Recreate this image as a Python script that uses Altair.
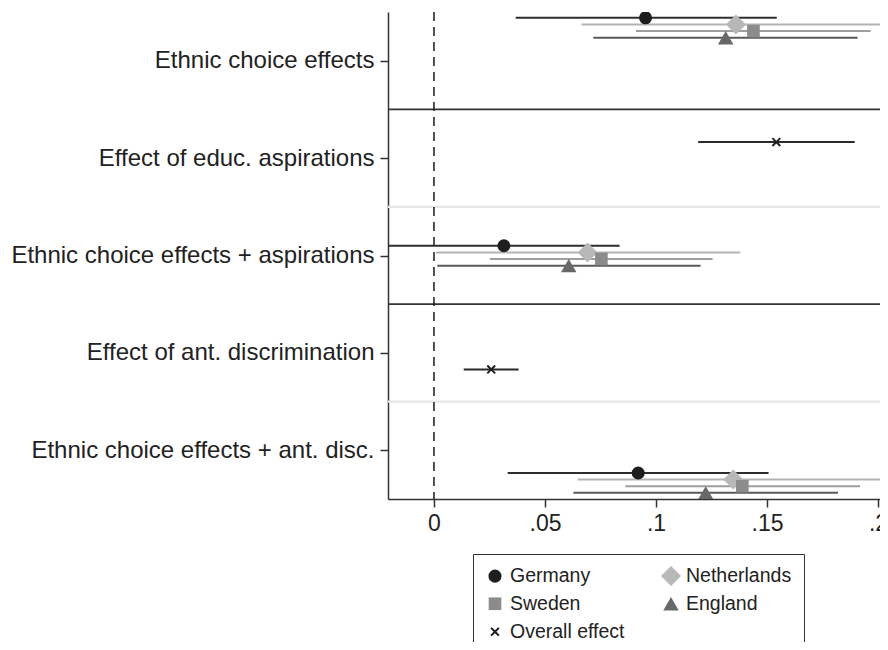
import altair as alt
import pandas as pd

categories = [
    "Ethnic choice effects",
    "Effect of educ. aspirations",
    "Ethnic choice effects + aspirations",
    "Effect of ant. discrimination",
    "Ethnic choice effects + ant. disc.",
]
series = ["Germany", "Netherlands", "Sweden", "England", "Overall effect"]

# row (1-based, top to bottom), series, estimate, lower CI, upper CI
rows = [1, 1, 1, 1, 2, 3, 3, 3, 3, 4, 5, 5, 5, 5]
names = ["Germany", "Netherlands", "Sweden", "England", "Overall effect",
         "Germany", "Netherlands", "Sweden", "England", "Overall effect",
         "Germany", "Netherlands", "Sweden", "England"]
est = [0.0953, 0.1360, 0.1439, 0.1314, 0.1542,
       0.0315, 0.0692, 0.0754, 0.0607, 0.0258,
       0.0920, 0.1348, 0.1389, 0.1224]
lo = [0.0368, 0.0665, 0.0910, 0.0718, 0.1190,
      -0.0250, 0.0009, 0.0252, 0.0015, 0.0134,
      0.0332, 0.0647, 0.0862, 0.0628]
hi = [0.1544, 0.2080, 0.1967, 0.1908, 0.1895,
      0.0836, 0.1380, 0.1255, 0.1201, 0.0381,
      0.1507, 0.2070, 0.1919, 0.1820]

# layout: vertical offset of each series inside its row
row_base = {1: -0.44, 2: -0.165, 3: -0.10, 4: 0.17, 5: 0.233}
step = 0.068
series_step = {"Germany": 0, "Netherlands": 1, "Sweden": 2, "England": 3, "Overall effect": 0}

df = pd.DataFrame({"row": rows, "series": names, "est": est, "lo": lo, "hi": hi})
df["y"] = [r + row_base[r] + step * series_step[s] for r, s in zip(rows, names)]

# separators between rows
major_after = [1, 3]
minor_after = [2, 4]
sep_major = pd.DataFrame({"sy": [r + 0.5 for r in major_after]})
sep_minor = pd.DataFrame({"sy": [r + 0.5 for r in minor_after]})
zero = pd.DataFrame({"z": [0.0]})

# styles
marker_color = {"Germany": "#1e1e1e", "Netherlands": "#b8b8b8", "Sweden": "#8c8c8c",
                "England": "#686868", "Overall effect": "#1e1e1e"}
line_color = {"Germany": "#2e2e2e", "Netherlands": "#b3b3b3", "Sweden": "#9e9e9e",
              "England": "#5a5a5a", "Overall effect": "#2a2a2a"}
x_path = ("M-1,-0.7L-0.7,-1L0,-0.3L0.7,-1L1,-0.7L0.3,0L1,0.7L0.7,1"
          "L0,0.3L-0.7,1L-1,0.7L-0.3,0Z")
marker_shape = {"Germany": "circle", "Netherlands": "diamond", "Sweden": "square",
                "England": "triangle-up", "Overall effect": x_path}
marker_size = {"Germany": 170, "Netherlands": 400, "Sweden": 160,
               "England": 240, "Overall effect": 85}

# legend is filled column by column: col 1 Germany/Sweden/Overall, col 2 Netherlands/England
legend_order = ["Germany", "Sweden", "Overall effect", "Netherlands", "England"]

W, H = 492, 487
FONT = "Liberation Sans"

xscale = alt.Scale(domain=[-0.0207, 0.2009], nice=False, zero=False)
yscale = alt.Scale(domain=[0.5, 5.5], reverse=True, nice=False, zero=False)

label_expr = "[" + ",".join("'" + c + "'" for c in categories) + "][datum.value - 1]"
xaxis = alt.Axis(values=[0, 0.05, 0.1, 0.15, 0.2], grid=False,
                 labelExpr="datum.value == 0 ? '0' : slice(format(datum.value, '.2~f'), 1)",
                 labelFontSize=23, labelFont=FONT, labelColor="#222", labelPadding=5,
                 tickSize=8, tickWidth=1.5, tickColor="#333", domainColor="#333",
                 domainWidth=1.5, title=None, labelFlush=False)
yaxis = alt.Axis(values=[1, 2, 3, 4, 5], grid=False, labelExpr=label_expr,
                 labelFontSize=24, labelFont=FONT, labelColor="#222", labelPadding=6,
                 tickSize=8, tickWidth=1.5, tickColor="#333", domainColor="#333",
                 domainWidth=1.5, title=None, labelLimit=500)

seps_major = alt.Chart(sep_major).mark_rule(color="#333333", strokeWidth=1.8).encode(
    y=alt.Y("sy:Q", scale=yscale, axis=yaxis),
)
seps_minor = alt.Chart(sep_minor).mark_rule(color="#e6e6e6", strokeWidth=2.2).encode(
    y=alt.Y("sy:Q", scale=yscale, axis=yaxis),
)

zline = alt.Chart(zero).mark_rule(strokeDash=[9, 6], color="#1a1a1a", strokeWidth=1.5).encode(
    x=alt.X("z:Q", scale=xscale, axis=xaxis),
)

cis = alt.Chart(df).mark_rule(strokeWidth=2, clip=True).encode(
    x=alt.X("lo:Q", scale=xscale, axis=xaxis),
    x2="hi:Q",
    y=alt.Y("y:Q", scale=yscale, axis=yaxis),
    stroke=alt.Stroke("series:N",
                      scale=alt.Scale(domain=series, range=[line_color[s] for s in series]),
                      legend=None),
)

leg = alt.Legend(title=None, orient="none", legendX=85, legendY=542, columns=2,
                 labelFontSize=19.5, labelFont=FONT, labelColor="#222",
                 strokeColor="#333", fillColor="white", padding=12,
                 rowPadding=7, columnPadding=36, labelOffset=5,
                 symbolStrokeWidth=0, symbolOpacity=1)

pts = alt.Chart(df).mark_point(filled=True, opacity=1, clip=True).encode(
    x=alt.X("est:Q", scale=xscale, axis=xaxis),
    y=alt.Y("y:Q", scale=yscale, axis=yaxis),
    color=alt.Color("series:N", legend=leg,
                    scale=alt.Scale(domain=legend_order,
                                    range=[marker_color[s] for s in legend_order])),
    shape=alt.Shape("series:N", legend=leg,
                    scale=alt.Scale(domain=legend_order,
                                    range=[marker_shape[s] for s in legend_order])),
    size=alt.Size("series:N", legend=leg,
                  scale=alt.Scale(type="ordinal", domain=legend_order,
                                  range=[marker_size[s] for s in legend_order])),
)

chart = alt.layer(seps_minor, seps_major, zline, cis, pts).properties(
    width=W, height=H,
    autosize=alt.AutoSizeParams(type="none"),
    padding={"left": 380, "top": 4, "right": 0, "bottom": 143},
).configure_view(stroke=None)

chart.save("out.html", embed_options={"renderer": "svg", "actions": False})
